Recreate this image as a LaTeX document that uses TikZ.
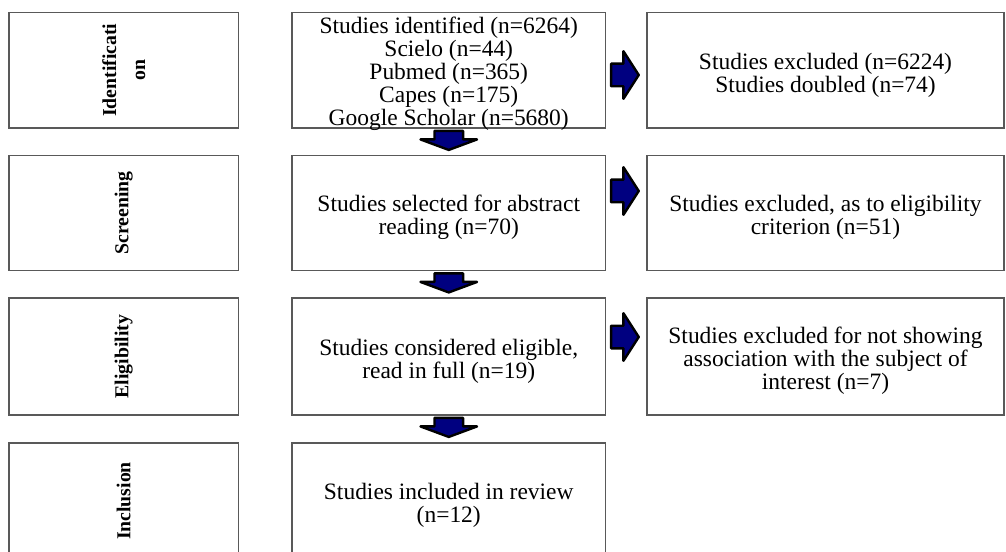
\documentclass[tikz,border=0pt]{standalone}
\usepackage{fontspec}
\setmainfont{Liberation Serif}
\usetikzlibrary{fit, calc, positioning}
\definecolor{arrowblue}{RGB}{0,0,128}
\tikzset{
  box/.style={draw=black!65, line width=1.4pt, inner sep=0pt},
  txt/.style={align=center, text=black, font=\fontsize{17.6}{17.3}\selectfont},
  stage/.style={align=center, rotate=90, text=black,
    font=\fontsize{14.8}{21.7}\selectfont\bfseries},
  blockarr/.style={fill=arrowblue, draw=black, line width=1.8pt, line join=round}
}
% block arrows, drawn from a box anchor
\newcommand{\downblock}[1]{%
  \draw[blockarr, shift={(#1)}] (-14.3,2) -- (14.3,2) -- (14.3,10.5) -- (28.3,10.5)
    -- (0,21) -- (-28.3,10.5) -- (-14.3,10.5) -- cycle;}
\newcommand{\rightblock}[1]{%
  \draw[blockarr, shift={(#1)}] (4.7,-11.3) -- (17,-11.3) -- (17,-23.8) -- (32.3,0)
    -- (17,23.8) -- (17,11.3) -- (4.7,11.3) -- cycle;}

\begin{document}
\begin{tikzpicture}[x=0.75pt, y=-0.75pt]
    \useasboundingbox (0,0) rectangle (1006,552);

    % stage column
    \node[box, fit={(9,12.5) (238.5,128)}] (lab1) {};
    \node[box, fit={(9,155.5) (238.5,270.5)}] (lab2) {};
    \node[box, fit={(9,298) (238.5,415)}] (lab3) {};
    \node[box, fit={(9,443) (238.5,559)}] (lab4) {};
    \node[stage] (st1) at (lab1.center) {Identificati\\on};
    \node[stage] (st2) at (lab2.center) {Screening};
    \node[stage] (st3) at (lab3.center) {Eligibility};
    \node[stage] (st4) at (lab4.center) {Inclusion};

    % main flow
    \node[box, fit={(292,12.5) (605.5,128)}] (mid1) {};
    \node[box, fit={(292,155.5) (605.5,270.5)}] (mid2) {};
    \node[box, fit={(292,298) (605.5,415)}] (mid3) {};
    \node[box, fit={(292,443) (605.5,559)}] (mid4) {};
    \node[txt] (tm1) at ([yshift=-2.5pt]mid1.center) {Studies identified (n=6264)\\Scielo (n=44)\\Pubmed (n=365)\\Capes (n=175)\\Google Scholar (n=5680)};
    \node[txt] (tm2) at ([yshift=-3.5pt]mid2.center) {Studies selected for abstract\\reading (n=70)};
    \node[txt] (tm3) at ([yshift=-3.5pt]mid3.center) {Studies considered eligible,\\read in full (n=19)};
    \node[txt] (tm4) at ([yshift=-3.5pt]mid4.center) {Studies included in review\\(n=12)};

    % excluded
    \node[box, fit={(647,12.5) (1004,128)}] (exc1) {};
    \node[box, fit={(647,155.5) (1004,270.5)}] (exc2) {};
    \node[box, fit={(647,298) (1004,415)}] (exc3) {};
    \node[txt] (te1) at ([yshift=-3.5pt]exc1.center) {Studies excluded (n=6224)\\Studies doubled (n=74)};
    \node[txt] (te2) at ([yshift=-3.5pt]exc2.center) {Studies excluded, as to eligibility\\criterion (n=51)};
    \node[txt] (te3) at ([yshift=-3.5pt]exc3.center) {Studies excluded for not showing\\association with the subject of\\interest (n=7)};

    % block arrows
    \downblock{mid1.south}
    \downblock{mid2.south}
    \downblock{mid3.south}
    \rightblock{$(mid1.east)+(0,4.75)$}
    \rightblock{$(mid2.east)+(0,-22)$}
    \rightblock{$(mid3.east)+(0,-19.5)$}
\end{tikzpicture}
\end{document}
